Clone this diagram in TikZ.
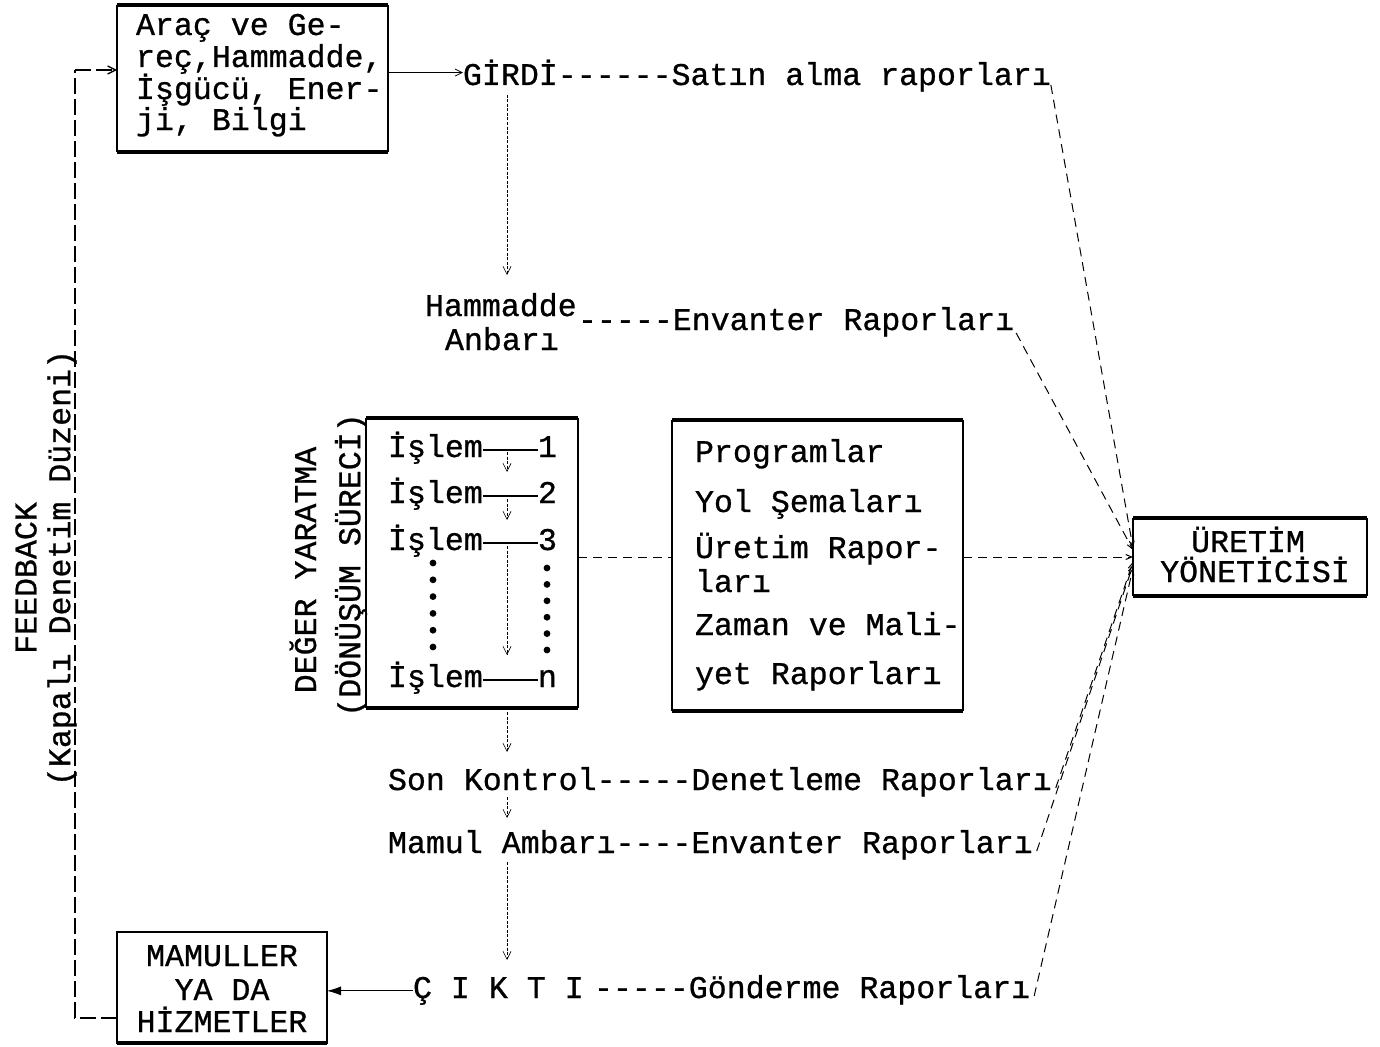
\documentclass[tikz,border=0pt]{standalone}
\usepackage{fontspec}
\setmonofont{Liberation Mono}[FakeBold=0.8]
\usetikzlibrary{arrows.meta}
\begin{document}
\begin{tikzpicture}[x=1pt,y=-1pt,
  every node/.style={font=\ttfamily\fontsize{31.6pt}{32pt}\selectfont, inner sep=0pt, outer sep=0pt},
  txt/.style={anchor=base west},
  ctr/.style={anchor=base},
  boxnode/.style={rectangle, draw=none, minimum width=#1},
  side/.style={line width=1.2pt},
  thickedge/.style={line width=3.6pt},
  flow/.style={line width=0.6pt, dash pattern=on 3pt off 1.5pt, -{Straight Barb[length=8pt,width=8pt]}},
  rep/.style={line width=1pt, dash pattern=on 9pt off 6pt, -{Straight Barb[length=6pt,width=5pt]}},
  repl/.style={line width=1pt, dash pattern=on 9pt off 6pt},
  fb/.style={line width=1.3pt, dash pattern=on 16pt off 5pt},
  solidarrow/.style={line width=0.8pt, -{Straight Barb[length=7pt,width=7pt]}},
  rule/.style={line width=2.4pt}
]
\useasboundingbox (0,0) rectangle (1380,1046);

% ---------- boxes ----------
\node[boxnode=271pt, minimum height=147pt] (src)  at (252.5,78.5) {};
\node[boxnode=212pt, minimum height=290pt] (proc) at (472,563) {};
\node[boxnode=291pt, minimum height=291pt] (prog) at (817.5,565.5) {};
\node[boxnode=234pt, minimum height=78pt]  (mgr)  at (1250,557) {};
\node[boxnode=210pt, minimum height=111pt] (prod) at (222,987.5) {};

\foreach \b in {src,proc,prog,mgr}{
  \draw[side] (\b.north west) -- (\b.south west) (\b.north east) -- (\b.south east);
  \draw[thickedge] (\b.north west) -- (\b.north east) (\b.south west) -- (\b.south east);
}
\draw[line width=1.8pt] (prod.north west) rectangle (prod.south east);
\draw[thickedge] (prod.south west) -- (prod.south east);

% ---------- source box text ----------
\node[txt] (src1) at (136,35)  {Araç ve Ge-};
\node[txt] (src2) at (136,67)  {reç,Hammadde,};
\node[txt] (src3) at (136,99)  {İşgücü, Ener-};
\node[txt] (src4) at (136,130) {ji, Bilgi};

% ---------- input line ----------
\node[txt] (girdi) at (463,85) {GİRDİ};
\node[txt] (satin) at (girdi.base east) {------Satın alma raporları};
\draw[solidarrow] (girdi.west -| src.east) -- (girdi.west);

% ---------- raw material store ----------
\node[txt] (ham1) at (425,316) {Hammadde};
\node[txt] (ham2) at (445,350) {Anbarı};
\node[txt] (env1) at (578,330) {-----Envanter Raporları};

% ---------- process box ----------
\foreach \y/\n/\nm in {457/1/a, 503/2/b, 550/3/c, 687/n/d}{
  \node[txt] (isl\nm) at (388,\y) {İşlem};
  \node[txt] (num\nm) at (538,\y) {\n};
  \draw[rule] ([yshift=7pt]isl\nm.base east) -- ([yshift=7pt]num\nm.base west);
}
\foreach \k in {0,...,5}{
  \fill ({433},{563+\k*16.8}) circle (3.4pt);
  \fill ({547},{568+\k*16.4}) circle (3.4pt);
}
\node[rotate=90] (deger) at (303,570) {DEĞER YARATMA};
\node[rotate=90] (donus) at (351,565) {(DÖNÜŞÜM SÜRECİ)};

% ---------- programs box ----------
\node[txt] (pr1) at (695,462) {Programlar};
\node[txt] (pr2) at (695,512) {Yol Şemaları};
\node[txt] (pr3) at (695,558) {Üretim Rapor-};
\node[txt] (pr4) at (695,592) {ları};
\node[txt] (pr5) at (695,635) {Zaman ve Mali-};
\node[txt] (pr6) at (695,684) {yet Raporları};

% ---------- manager box ----------
\node[ctr] (mg1) at (1248,552) {ÜRETİM};
\node[ctr] (mg2) at (1255,582) {YÖNETİCİSİ};

% ---------- lower lines ----------
\node[txt] (son)  at (388,790) {Son Kontrol};
\node[txt] (den)  at (son.base east) {-----Denetleme Raporları};
\node[txt] (mam)  at (388,853) {Mamul Ambarı};
\node[txt] (env2) at (mam.base east) {----Envanter Raporları};
\node[txt] (cikti) at (413,998) {Ç I K T I};
\node[txt] (gon)  at (594,998) {-----Gönderme Raporları};

% ---------- product box text ----------
\node[ctr] (pd1) at (222,966)  {MAMULLER};
\node[ctr] (pd2) at (222,1000) {YA DA};
\node[ctr] (pd3) at (222,1032) {HİZMETLER};

% ---------- feedback ----------
\node[rotate=90] (feed) at (26,578) {FEEDBACK};
\node[rotate=90] (kapali) at (62,568) {(Kapalı Denetim Düzeni)};
\coordinate (fbtop) at (75,70);
\coordinate (fbbot) at (75,1018);
\draw[fb] (prod.west |- fbbot) -- (fbbot) -- (fbtop);
\draw[fb, -{Straight Barb[length=8pt,width=8pt]}] (fbtop) -- (src.west |- fbtop);

% ---------- vertical flow ----------
\coordinate (g1) at (507,95);  \coordinate (g2) at (507,275);
\coordinate (a1) at (507,452); \coordinate (a1e) at (507,472);
\coordinate (a2) at (507,499); \coordinate (a2e) at (507,520);
\coordinate (a3) at (507,546); \coordinate (a3e) at (507,655);
\coordinate (p1) at (507,712); \coordinate (p2) at (507,752);
\coordinate (s1) at (507,797); \coordinate (s2) at (507,818);
\coordinate (m1) at (507,862); \coordinate (m2) at (507,960);
\draw[flow] (g1) -- (g2);
\draw[flow] (a1) -- (a1e);
\draw[flow] (a2) -- (a2e);
\draw[flow] (a3) -- (a3e);
\draw[flow] (p1) -- (p2);
\draw[flow] (s1) -- (s2);
\draw[flow] (m1) -- (m2);

% output arrow
\draw[line width=0.8pt, -{Latex[length=14pt,width=9pt]}] (cikti.west) -- (cikti.west -| prod.east);

% ---------- report lines ----------
\draw[rep] (satin.base east) -- ([yshift=9pt]mgr.west);
\draw[rep] ([xshift=2pt,yshift=-3pt]env1.base east) -- ([yshift=7pt]mgr.west);
\draw[repl] (proc.east |- mgr.west) -- (prog.west |- mgr.west);
\draw[rep] (prog.east |- mgr.west) -- (mgr.west);
\draw[rep] ([xshift=4pt,yshift=2pt]den.base east) -- ([yshift=-5pt]mgr.west);
\draw[rep] ([xshift=4pt,yshift=2pt]env2.base east) -- ([yshift=-8pt]mgr.west);
\draw[rep] ([xshift=4pt,yshift=2pt]gon.base east) -- ([yshift=-11pt]mgr.west);
\end{tikzpicture}
\end{document}
